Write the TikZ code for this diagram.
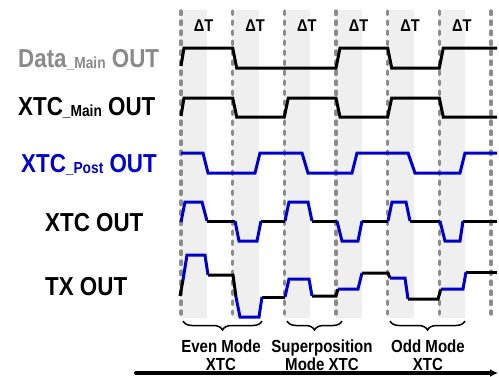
\documentclass[tikz,border=0pt]{standalone}
\usepackage{fontspec}
\setmainfont{Liberation Sans}[FakeStretch=0.86]
\usetikzlibrary{decorations.pathreplacing,arrows.meta}
\definecolor{sigblue}{RGB}{0,0,204}
\definecolor{dashgray}{RGB}{140,140,140}
\definecolor{shadegray}{RGB}{239,239,239}
\definecolor{labgray}{RGB}{138,138,138}
\tikzset{
  sig/.style={line width=3pt},
  bsig/.style={line width=3pt, draw=sigblue},
  gridline/.style={draw=dashgray, line width=3.5pt, line cap=round, dash pattern=on 3.5pt off 6.5pt},
  shade/.style={fill=shadegray, draw=none},
  lab/.style={inner sep=0pt, anchor=base west, font=\bfseries\fontsize{26}{26}\selectfont},
  dtlab/.style={inner sep=0pt, font=\bfseries\fontsize{17}{17}\selectfont},
  modelab/.style={inner sep=0pt, align=center, font=\bfseries\fontsize{17.5}{18}\selectfont},
  bracestyle/.style={line width=1.5pt, decorate, decoration={brace, mirror, amplitude=9pt}},
}
\newcommand{\subsc}[1]{\raisebox{-1pt}{\fontsize{16}{16}\selectfont\_#1}}
\begin{document}
\begin{tikzpicture}[x=1pt, y=-1pt]
\useasboundingbox (0,0) rectangle (499,376);
% shaded bands
\foreach \b in {181,232.7,284.3,336,387.7,439.3}{
  \fill[shadegray] (\b,10) rectangle (\b+25.8,318);
}
% dashed grid lines
\foreach \b [count=\i] in {181,232.7,284.3,336,387.7,439.3,491}{
  \coordinate (gt\i) at (\b,11);
  \coordinate (gb\i) at (\b,314);
  \draw[gridline] (gt\i) -- (gb\i);
}
% Delta T labels
\foreach \b [count=\i] in {181,232.7,284.3,336,387.7,439.3}{
  \node[dtlab] (dt\i) at (\b+22.5,26) {ΔT};
}
% Data_Main OUT
\draw[sig] (181,66) -- (184,48) -- (232.7,48) -- (236.7,68) -- (336,68) -- (340,48) -- (387.7,48) -- (391.7,68) -- (439.3,68) -- (443.3,48) -- (497,48);
% XTC_Main OUT
\draw[sig] (181,116) -- (184,98) -- (232.7,98) -- (236.7,117) -- (284.3,117) -- (288.3,98) -- (336,98) -- (340,117) -- (387.7,117) -- (391.7,98) -- (439.3,98) -- (443.3,117) -- (497,117);
% XTC_Post OUT
\draw[bsig] (181,153) -- (203,153) -- (208,173) -- (255,173) -- (260,153) -- (302,153) -- (308,173) -- (352,173) -- (357,153) -- (408,153) -- (415,173) -- (460,173) -- (465,153) -- (497,153);
% XTC OUT
\draw[sig] (207,221) -- (235,221);
\draw[sig] (261,221) -- (285,221);
\draw[sig] (312,221) -- (337,221);
\draw[sig] (362,221) -- (388,221);
\draw[sig] (410,221) -- (440,221);
\draw[sig] (463,221) -- (497,221);
\draw[bsig] (181,222) -- (185,202) -- (202,202) -- (207,221);
\draw[bsig] (235,221) -- (239,241) -- (257,241) -- (261,221);
\draw[bsig] (285,221) -- (289,202) -- (308,202) -- (312,221);
\draw[bsig] (337,221) -- (342,241) -- (358,241) -- (362,221);
\draw[bsig] (388,221) -- (392,202) -- (406,202) -- (410,221);
\draw[bsig] (440,221) -- (445,241) -- (460,241) -- (463,221);
% TX OUT
\draw[sig] (180,296) -- (183,280);
\draw[sig] (208,275) -- (233,275) -- (236,297);
\draw[sig] (262,297) -- (285,297);
\draw[sig] (312,296) -- (336,296) -- (338,289);
\draw[sig] (362,273) -- (388,273) -- (390,278);
\draw[sig] (408,299) -- (438,299) -- (441,289);
\draw[sig] (466,272) -- (497,272);
\draw[bsig] (183,280) -- (187,255) -- (205,255) -- (208,275);
\draw[bsig] (236,297) -- (240,317) -- (259,317) -- (262,297);
\draw[bsig] (285,297) -- (289,279) -- (309,279) -- (312,296);
\draw[bsig] (338,289) -- (358,289) -- (362,273);
\draw[bsig] (390,278) -- (405,278) -- (408,299);
\draw[bsig] (441,289) -- (463,289) -- (466,272);
% left labels
\node[lab, text=labgray] (ldata) at (18,67) {Data\subsc{Main} OUT};
\node[lab] (lmain) at (18,115) {XTC\subsc{Main} OUT};
\node[lab, text=sigblue] (lpost) at (21,172) {XTC\subsc{Post} OUT};
\node[lab] (lxtc) at (45,231) {XTC OUT};
\node[lab] (ltx) at (45,295) {TX OUT};
% braces
\coordinate (br1a) at (183,321); \coordinate (br1b) at (262,321);
\coordinate (br2a) at (287,321); \coordinate (br2b) at (342,321);
\coordinate (br3a) at (390,321); \coordinate (br3b) at (465,321);
\draw[bracestyle] (br1a) -- (br1b);
\draw[bracestyle] (br2a) -- (br2b);
\draw[bracestyle] (br3a) -- (br3b);
% mode labels
\node[modelab] (even) at (221,355) {Even Mode\\XTC};
\node[modelab] (super) at (322,355) {Superposition\\Mode XTC};
\node[modelab] (odd) at (428,355) {Odd Mode\\XTC};
% time arrow
\coordinate (ta) at (136,373);
\coordinate (tb) at (498,373);
\draw[line width=4pt, line cap=round, -{Latex[length=8pt,width=8pt]}] (ta) -- (tb);
\end{tikzpicture}
\end{document}
